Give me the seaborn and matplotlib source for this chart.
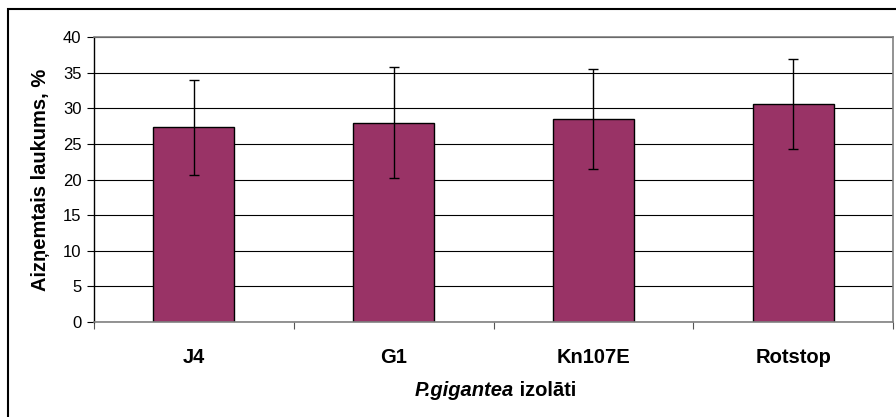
import matplotlib
matplotlib.use("Agg")
import matplotlib.pyplot as plt
import seaborn as sns
import pandas as pd
from matplotlib.patches import Rectangle
from matplotlib.ticker import FixedLocator, NullFormatter

#%% data
isolates = ["J4", "G1", "Kn107E", "Rotstop"]
area_pct = [27.3, 28.0, 28.5, 30.6]
area_err = [6.65, 7.8, 7.0, 6.3]
y_ticks = [0, 5, 10, 15, 20, 25, 30, 35, 40]

df = pd.DataFrame({"isolate": isolates, "area": area_pct})

#%% plot
sns.set_style("white")
plt.rcParams["font.family"] = ["Liberation Sans", "DejaVu Sans"]
for key in ["text.color", "axes.labelcolor", "xtick.color", "ytick.color"]:
    plt.rcParams[key] = "black"

fig = plt.figure(figsize=(8.96, 4.17), dpi=100)
ax = fig.add_axes([94 / 896, 95 / 417, 799 / 896, 285 / 417])

sns.barplot(data=df, x="isolate", y="area", color="#993366", saturation=1,
            width=0.405, edgecolor="black", linewidth=1, ax=ax, errorbar=None)
ax.errorbar(range(len(isolates)), area_pct, yerr=area_err, fmt="none",
            ecolor="black", elinewidth=1, capsize=3.6, capthick=1)

ax.set_ylim(0, 40)
ax.set_xlim(-0.5, len(isolates) - 0.5)
ax.set_yticks(y_ticks)
ax.yaxis.grid(True, color="black", linewidth=0.8)
ax.set_axisbelow(True)
ax.tick_params(axis="y", labelsize=12, length=5, width=0.8, direction="out",
               left=True, pad=4)
ax.tick_params(axis="x", which="major", length=0, labelsize=14.5, pad=19)
ax.xaxis.set_minor_locator(FixedLocator([i - 0.5 for i in range(len(isolates) + 1)]))
ax.xaxis.set_minor_formatter(NullFormatter())
ax.tick_params(axis="x", which="minor", length=5, width=0.8, color="#555555",
               bottom=True)
for lbl in ax.get_xticklabels():
    lbl.set_fontweight("bold")

for side in ["top", "right", "bottom"]:
    ax.spines[side].set_color("#808080")
    ax.spines[side].set_linewidth(1.2)
ax.spines["left"].set_color("black")
ax.spines["left"].set_linewidth(1)

ax.set_xlabel("")
ax.set_ylabel("Aizņemtais laukums, %", fontsize=14.5, fontweight="bold")
ax.yaxis.set_label_coords((50 - 94) / 799, 0.5)

# x label with an italic species name
fig.canvas.draw()
renderer = fig.canvas.get_renderer()
t1 = fig.text(0, 0, "P.gigantea", fontsize=14.5, fontweight="bold",
              fontstyle="italic", va="center")
t2 = fig.text(0, 0, " izolāti", fontsize=14.5, fontweight="bold", va="center")
w1 = t1.get_window_extent(renderer).width
w2 = t2.get_window_extent(renderer).width
x0 = 495 - (w1 + w2) / 2
yc = 1 - 390 / 417
t1.set_position((x0 / 896, yc))
t2.set_position(((x0 + w1) / 896, yc))

# outer chart border
fig.patches.append(Rectangle((8 / 896, -0.1), 1.0, 1 - 9 / 417 + 0.1,
                             transform=fig.transFigure, fill=False,
                             edgecolor="black", linewidth=1.5))

fig.savefig("out.png", dpi=100)
